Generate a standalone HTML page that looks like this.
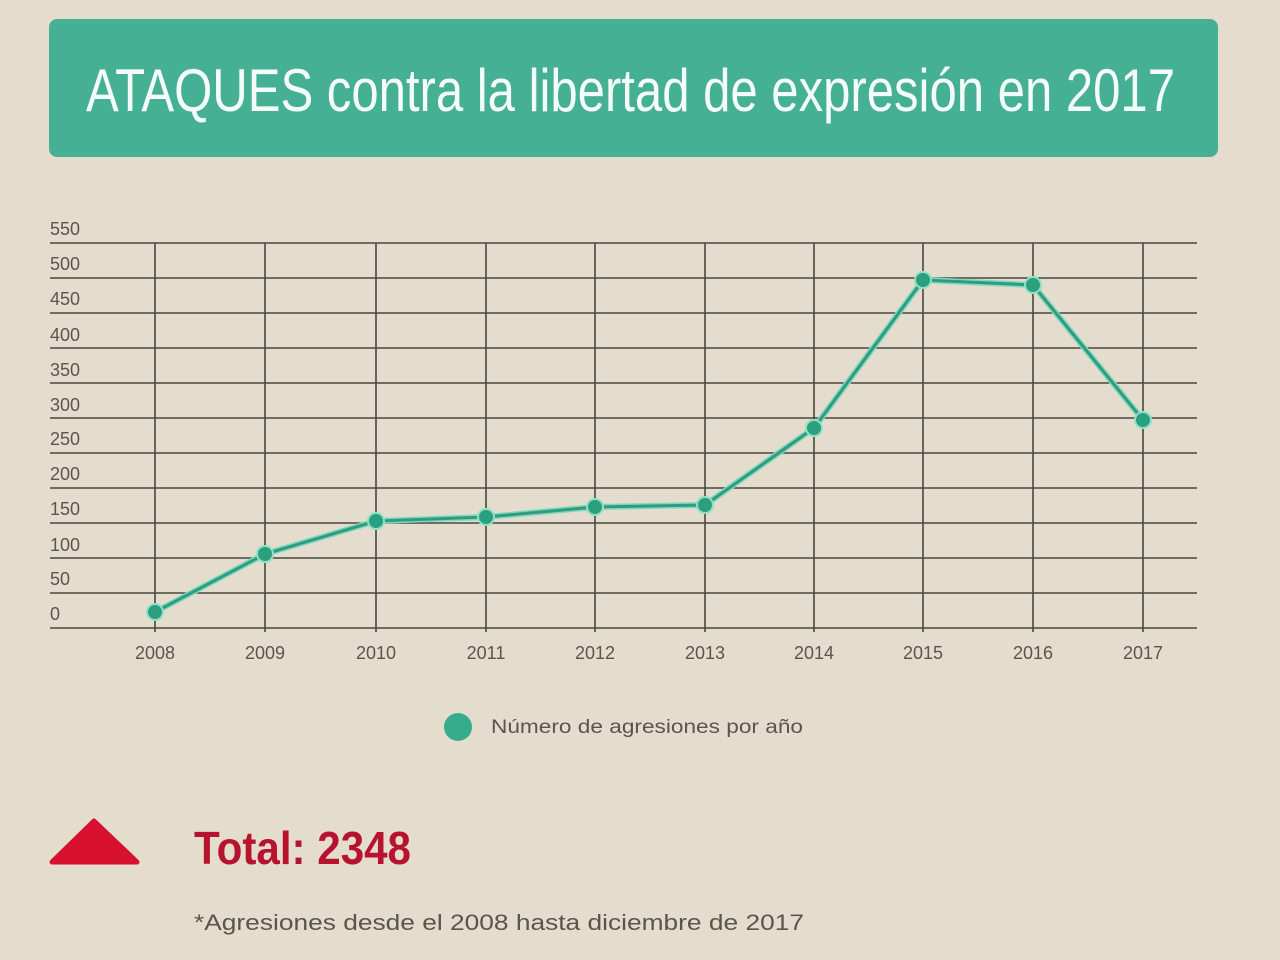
<!DOCTYPE html>
<html><head><meta charset="utf-8"><style>
html,body{margin:0;padding:0;background:#e4dccd;}
svg{display:block}
</style></head><body>
<svg width="1280" height="960" viewBox="0 0 1280 960" xmlns="http://www.w3.org/2000/svg" font-family="Liberation Sans, sans-serif">
<rect x="0" y="0" width="1280" height="960" fill="#e4dccd"/>
<rect x="49" y="19" width="1169" height="138" rx="8" fill="#45b094"/>
<text x="86" y="111" font-size="60" fill="#f4fbf8" textLength="1089" lengthAdjust="spacingAndGlyphs">ATAQUES contra la libertad de expresión en 2017</text>
<g stroke="#4a463f" stroke-width="1.6">
<line x1="50" y1="243" x2="1197" y2="243"/>
<line x1="50" y1="278" x2="1197" y2="278"/>
<line x1="50" y1="313" x2="1197" y2="313"/>
<line x1="50" y1="348" x2="1197" y2="348"/>
<line x1="50" y1="383" x2="1197" y2="383"/>
<line x1="50" y1="418" x2="1197" y2="418"/>
<line x1="50" y1="453" x2="1197" y2="453"/>
<line x1="50" y1="488" x2="1197" y2="488"/>
<line x1="50" y1="523" x2="1197" y2="523"/>
<line x1="50" y1="558" x2="1197" y2="558"/>
<line x1="50" y1="593" x2="1197" y2="593"/>
<line x1="50" y1="628" x2="1197" y2="628"/>
<line x1="155" y1="243" x2="155" y2="632"/>
<line x1="265" y1="243" x2="265" y2="632"/>
<line x1="376" y1="243" x2="376" y2="632"/>
<line x1="486" y1="243" x2="486" y2="632"/>
<line x1="595" y1="243" x2="595" y2="632"/>
<line x1="705" y1="243" x2="705" y2="632"/>
<line x1="814" y1="243" x2="814" y2="632"/>
<line x1="923" y1="243" x2="923" y2="632"/>
<line x1="1033" y1="243" x2="1033" y2="632"/>
<line x1="1143" y1="243" x2="1143" y2="632"/>
</g>
<g font-size="18" fill="#5a554d">
<text x="50" y="235">550</text><text x="50" y="270">500</text><text x="50" y="305">450</text>
<text x="50" y="341">400</text><text x="50" y="376">350</text><text x="50" y="411">300</text>
<text x="50" y="445">250</text><text x="50" y="480">200</text><text x="50" y="515">150</text>
<text x="50" y="551">100</text><text x="50" y="585">50</text><text x="50" y="620">0</text>
</g>
<g font-size="18" fill="#5a554d" text-anchor="middle">
<text x="155" y="659">2008</text><text x="265" y="659">2009</text><text x="376" y="659">2010</text>
<text x="486" y="659">2011</text><text x="595" y="659">2012</text><text x="705" y="659">2013</text>
<text x="814" y="659">2014</text><text x="923" y="659">2015</text><text x="1033" y="659">2016</text>
<text x="1143" y="659">2017</text>
</g>
<polyline fill="none" stroke="#7fd8bd" stroke-width="6" points="155,612 265,554 376,521 486,517 595,507 705,505 814,428 923,280 1033,285 1143,420"/>
<polyline fill="none" stroke="#2f9c7f" stroke-width="3" points="155,612 265,554 376,521 486,517 595,507 705,505 814,428 923,280 1033,285 1143,420"/>
<g fill="#2aa07f" stroke="#8fe0c6" stroke-width="2">
<circle cx="155" cy="612" r="8"/><circle cx="265" cy="554" r="8"/><circle cx="376" cy="521" r="8"/>
<circle cx="486" cy="517" r="8"/><circle cx="595" cy="507" r="8"/><circle cx="705" cy="505" r="8"/>
<circle cx="814" cy="428" r="8"/><circle cx="923" cy="280" r="8"/><circle cx="1033" cy="285" r="8"/>
<circle cx="1143" cy="420" r="8"/>
</g>
<circle cx="458" cy="727" r="14" fill="#35ad8c"/>
<text x="491" y="733" font-size="19" fill="#5a554d" textLength="312" lengthAdjust="spacingAndGlyphs">Número de agresiones por año</text>
<polygon points="94,821 137,862 52,862" fill="#d8102f" stroke="#d8102f" stroke-width="5" stroke-linejoin="round"/>
<text x="194" y="864" font-size="46" font-weight="bold" fill="#b8132e" textLength="217" lengthAdjust="spacingAndGlyphs">Total: 2348</text>
<text x="194" y="930" font-size="22" fill="#5a554d" textLength="610" lengthAdjust="spacingAndGlyphs">*Agresiones desde el 2008 hasta  diciembre de 2017</text>
</svg>
</body></html>
